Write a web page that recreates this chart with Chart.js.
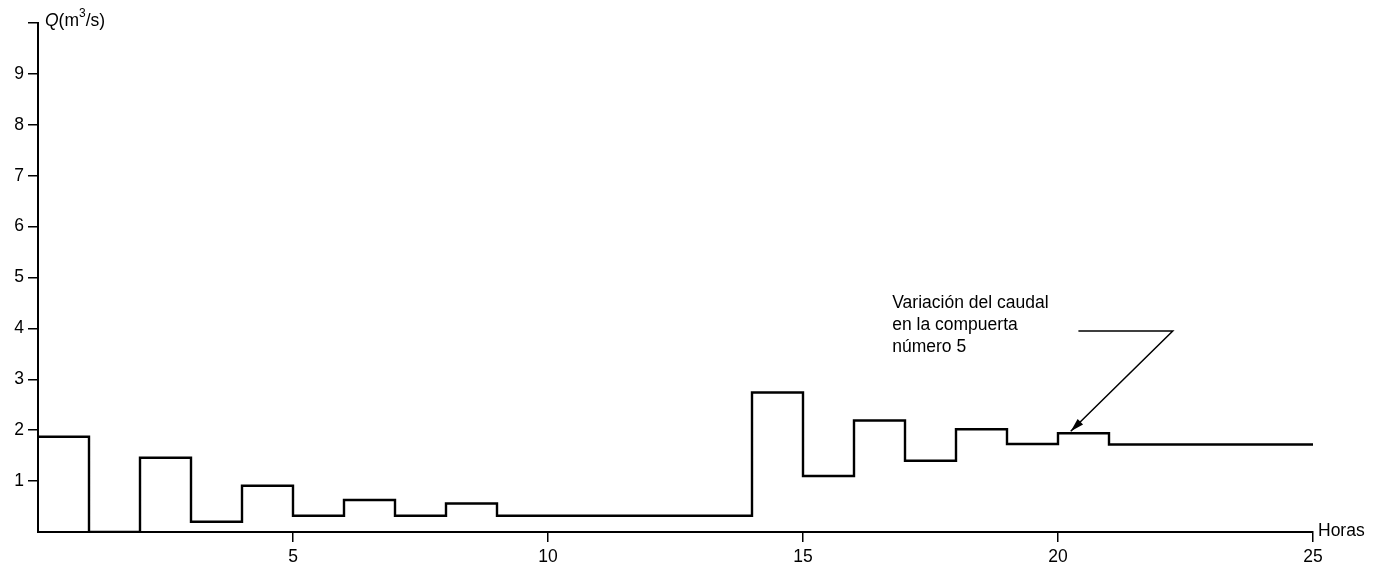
<!DOCTYPE html>
<html>
<head>
<meta charset="utf-8">
<script src="https://cdn.jsdelivr.net/npm/chart.js@4.4.1/dist/chart.umd.min.js"></script>
<style>
  html, body { margin: 0; padding: 0; background: #fff; }
  #wrap { width: 1382px; height: 570px; }
</style>
</head>
<body>
<div id="wrap"><canvas id="caudalChart" width="1382" height="570"></canvas></div>
<script>
// hora de inicio de cada escalón y caudal (m3/s) en ese intervalo
const horas = [0, 1, 2, 3, 4, 5, 6, 7, 8, 9, 14, 15, 16, 17, 18, 19, 20, 21, 25];
const caudal = [1.87, 0, 1.46, 0.2, 0.91, 0.32, 0.63, 0.32, 0.56, 0.32, 2.74, 1.1, 2.19, 1.4, 2.02, 1.73, 1.94, 1.72, 1.72];

const xTicks = [5, 10, 15, 20, 25];
const yTicks = [1, 2, 3, 4, 5, 6, 7, 8, 9];

const notaLineas = ['Variación del caudal', 'en la compuerta', 'número 5'];
// posición de la nota y de la flecha en unidades del gráfico
const notaTexto = { x: 16.75, y: 4.5 };
const notaGuia = [{ x: 20.4, y: 3.95 }, { x: 22.25, y: 3.95 }, { x: 20.25, y: 1.98 }];

const fuente = '"Liberation Sans", Arial, sans-serif';

const extras = {
    id: 'extras',
    afterDraw(chart) {
        const ctx = chart.ctx;
        const xs = chart.scales.x, ys = chart.scales.y;
        ctx.save();
        ctx.fillStyle = '#000';
        ctx.strokeStyle = '#000';
        ctx.textBaseline = 'middle';

        // etiqueta del eje Y
        let px = xs.getPixelForValue(0) + 7;
        let py = ys.getPixelForValue(10) - 2;
        ctx.font = 'italic 17.5px ' + fuente;
        ctx.fillText('Q', px, py);
        px += ctx.measureText('Q').width;
        ctx.font = '17.5px ' + fuente;
        ctx.fillText('(m', px, py);
        px += ctx.measureText('(m').width;
        ctx.font = '12px ' + fuente;
        ctx.fillText('3', px, py - 7);
        px += ctx.measureText('3').width;
        ctx.font = '17.5px ' + fuente;
        ctx.fillText('/s)', px, py);

        // etiqueta del eje X
        ctx.fillText('Horas', xs.getPixelForValue(25) + 5, ys.getPixelForValue(0) - 1);

        // nota
        const tx = xs.getPixelForValue(notaTexto.x);
        const ty = ys.getPixelForValue(notaTexto.y);
        ctx.font = '17.5px ' + fuente;
        notaLineas.forEach((t, i) => ctx.fillText(t, tx, ty + i * 22));

        // guía y flecha
        const p = notaGuia.map(q => ({ x: xs.getPixelForValue(q.x), y: ys.getPixelForValue(q.y) }));
        ctx.lineWidth = 1.5;
        ctx.beginPath();
        ctx.moveTo(p[0].x, p[0].y);
        ctx.lineTo(p[1].x, p[1].y);
        ctx.lineTo(p[2].x, p[2].y);
        ctx.stroke();
        const ang = Math.atan2(p[2].y - p[1].y, p[2].x - p[1].x);
        const len = 14, w = 0.28;
        ctx.beginPath();
        ctx.moveTo(p[2].x, p[2].y);
        ctx.lineTo(p[2].x - len * Math.cos(ang - w), p[2].y - len * Math.sin(ang - w));
        ctx.lineTo(p[2].x - len * Math.cos(ang + w), p[2].y - len * Math.sin(ang + w));
        ctx.closePath();
        ctx.fill();
        ctx.restore();
    }
};

new Chart(document.getElementById('caudalChart'), {
    type: 'line',
    data: {
        datasets: [{
            data: horas.map((h, i) => ({ x: h, y: caudal[i] })),
            stepped: 'before',
            borderColor: '#000',
            borderWidth: 2.4,
            pointRadius: 0,
            fill: false
        }]
    },
    options: {
        responsive: false,
        animation: false,
        layout: { padding: { top: 23, right: 69, left: 0, bottom: 0 } },
        plugins: { legend: { display: false }, tooltip: { enabled: false } },
        scales: {
            x: {
                type: 'linear',
                min: 0,
                max: 25,
                afterFit(scale) { scale.height = 38; },
                afterBuildTicks(scale) { scale.ticks = [0].concat(xTicks).map(v => ({ value: v })); },
                border: { display: true, color: '#000', width: 2 },
                grid: {
                    drawOnChartArea: false,
                    drawTicks: true,
                    tickLength: 10,
                    lineWidth: 1.5,
                    color: c => c.tick && c.tick.value === 0 ? 'rgba(0,0,0,0)' : '#000'
                },
                ticks: {
                    color: '#000',
                    font: { family: fuente, size: 17.5 },
                    padding: 5,
                    maxRotation: 0,
                    callback: v => v === 0 ? '' : v
                }
            },
            y: {
                min: 0,
                max: 10,
                afterFit(scale) { scale.width = 38; },
                afterBuildTicks(scale) { scale.ticks = [0].concat(yTicks, [10]).map(v => ({ value: v })); },
                border: { display: true, color: '#000', width: 2 },
                grid: {
                    drawOnChartArea: false,
                    drawTicks: true,
                    tickLength: 10,
                    lineWidth: 1.5,
                    color: c => c.tick && c.tick.value === 0 ? 'rgba(0,0,0,0)' : '#000'
                },
                ticks: {
                    color: '#000',
                    font: { family: fuente, size: 17.5 },
                    padding: 4,
                    callback: v => (v === 0 || v === 10) ? '' : v
                }
            }
        }
    },
    plugins: [extras]
});
</script>
</body>
</html>
